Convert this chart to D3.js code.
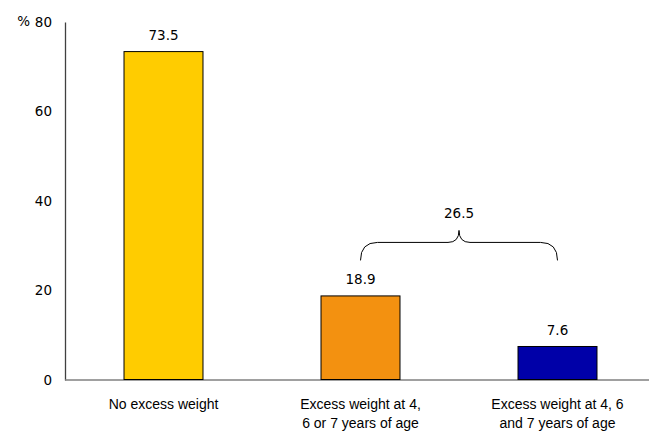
<!DOCTYPE html>
<html>
<head>
<meta charset="utf-8">
<script src="https://cdn.jsdelivr.net/npm/d3@7/dist/d3.min.js"></script>
<style>
  html, body { margin: 0; padding: 0; background: #fff; }
  svg { display: block; }
</style>
</head>
<body>
<svg id="chart" width="649" height="433"></svg>
<script>
const categories = [
  ["No excess weight"],
  ["Excess weight at 4,", "6 or 7 years of age"],
  ["Excess weight at 4, 6", "and 7 years of age"]
];
const categoryKeys = ["none", "any", "all"];
const values = [73.5, 18.9, 7.6];
const valueLabels = ["73.5", "18.9", "7.6"];
const barColors = ["#FFCC00", "#F39110", "#0000A8"];
const yTicks = [0, 20, 40, 60, 80];
const bracketValue = 26.5;
const bracketLabel = "26.5";

const svg = d3.select("#chart");
const numFont = "'DejaVu Sans', sans-serif";
const catFont = "'Liberation Sans', Arial, sans-serif";

const x = d3.scaleBand().domain(categoryKeys).range([65, 656])
  .paddingInner(0.594).paddingOuter(0.297);
const y = d3.scaleLinear().domain([0, 80]).range([380, 22]);

// Y axis
const yAxis = svg.append("g").attr("transform", "translate(65,0)")
  .call(d3.axisLeft(y).tickValues(yTicks).tickSize(0).tickPadding(13).tickFormat(d3.format("d")));
yAxis.select(".domain").attr("stroke", "#404040").attr("stroke-width", 1.3);
yAxis.selectAll("text").attr("font-family", numFont).attr("font-size", "13.5px").attr("fill", "#000");

svg.append("text").attr("x", 30).attr("y", y(80)).attr("dy", "0.32em")
  .attr("text-anchor", "end").attr("font-family", numFont).attr("font-size", "13.5px")
  .text("%");

// X axis line
svg.append("line").attr("x1", 65).attr("x2", 649).attr("y1", y(0)).attr("y2", y(0))
  .attr("stroke", "#808080").attr("stroke-width", 1.6);

// Bars
svg.selectAll("rect.bar").data(values).enter().append("rect")
  .attr("class", "bar")
  .attr("x", (d, i) => x(categoryKeys[i]) + 0.5)
  .attr("y", d => y(d) + 0.5)
  .attr("width", x.bandwidth() - 1)
  .attr("height", d => y(0) - y(d) - 1)
  .attr("fill", (d, i) => barColors[i])
  .attr("stroke", "#000").attr("stroke-width", 1);

// Value labels
svg.selectAll("text.val").data(values).enter().append("text")
  .attr("class", "val")
  .attr("x", (d, i) => x(categoryKeys[i]) + x.bandwidth() / 2)
  .attr("y", d => y(d) - 11)
  .attr("text-anchor", "middle").attr("font-family", numFont).attr("font-size", "13.5px")
  .text((d, i) => valueLabels[i]);

// Category labels
categories.forEach((lines, i) => {
  const t = svg.append("text")
    .attr("x", x(categoryKeys[i]) + x.bandwidth() / 2)
    .attr("y", 409)
    .attr("text-anchor", "middle").attr("font-family", catFont).attr("font-size", "14px");
  lines.forEach((ln, j) => {
    t.append("tspan").attr("x", x(categoryKeys[i]) + x.bandwidth() / 2)
      .attr("dy", j === 0 ? 0 : 19).text(ln);
  });
});

// Bracket
const xl = x("any") + x.bandwidth() / 2;
const xr = x("all") + x.bandwidth() / 2;
const xm = (xl + xr) / 2;
const yEnd = y(bracketValue) - 1;
const yLine = yEnd - 18;
const yPeak = yLine - 12;
const p = d3.path();
p.moveTo(xl, yEnd);
p.quadraticCurveTo(xl, yLine, xl + 17, yLine);
p.lineTo(xm - 11, yLine);
p.quadraticCurveTo(xm, yLine, xm, yPeak);
p.quadraticCurveTo(xm, yLine, xm + 11, yLine);
p.lineTo(xr - 17, yLine);
p.quadraticCurveTo(xr, yLine, xr, yEnd);
svg.append("path").attr("d", p.toString()).attr("fill", "none")
  .attr("stroke", "#000").attr("stroke-width", 1);

svg.append("text").attr("x", xm).attr("y", yPeak - 12)
  .attr("text-anchor", "middle").attr("font-family", numFont).attr("font-size", "13.5px")
  .text(bracketLabel);
</script>
</body>
</html>
